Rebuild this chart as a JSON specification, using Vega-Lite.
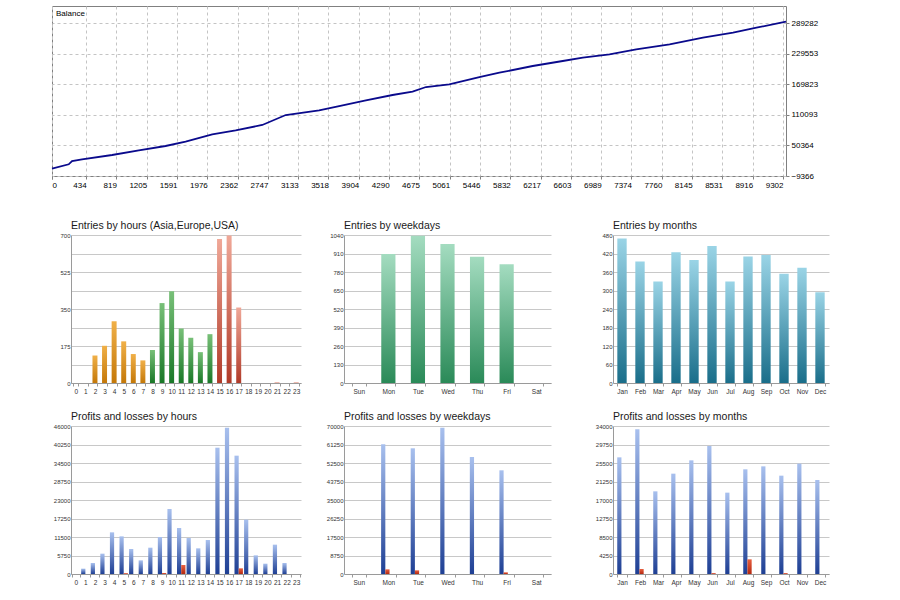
{
  "$schema": "https://vega.github.io/schema/vega-lite/v6.json",
  "padding": {"left": 47, "top": 5, "right": 5, "bottom": 5},
  "background": "white",
  "spacing": 30,
  "align": "none",
  "config": {
    "font": "Liberation Sans",
    "view": {"stroke": null},
    "title": {"fontSize": 10.5, "fontWeight": "normal", "anchor": "start", "frame": "group", "offset": 1, "color": "#1a1a1a", "font": "Liberation Sans"},
    "axis": {"labelFontSize": 6, "labelColor": "#333333", "domainColor": "#9a9a9a", "tickColor": "#9a9a9a", "gridColor": "#c8c8c8"},
    "axisX": {"grid": false, "labelAngle": 0, "tickBand": "extent", "tickSize": 3, "labelPadding": 2, "labelFontSize": 6.5},
    "axisY": {"ticks": false, "labelPadding": 1, "grid": true, "format": "d"}
  },
  "datasets": {
    "bal": [
      {"n": 0, "b": 5000}, {"n": 213, "b": 13472}, {"n": 255, "b": 19914}, {"n": 382, "b": 23232},
      {"n": 765, "b": 31626}, {"n": 1105, "b": 40800}, {"n": 1445, "b": 49194}, {"n": 1700, "b": 57590},
      {"n": 2039, "b": 72030}, {"n": 2337, "b": 79840}, {"n": 2676, "b": 90190}, {"n": 2974, "b": 109700},
      {"n": 3399, "b": 118880}, {"n": 3654, "b": 127270}, {"n": 3994, "b": 138400}, {"n": 4333, "b": 148750},
      {"n": 4588, "b": 155190}, {"n": 4759, "b": 164360}, {"n": 5055, "b": 169640}, {"n": 5438, "b": 183890},
      {"n": 5693, "b": 192280}, {"n": 6117, "b": 205360}, {"n": 6499, "b": 215120}, {"n": 6754, "b": 221560},
      {"n": 7094, "b": 228200}, {"n": 7434, "b": 237960}, {"n": 7859, "b": 247720}, {"n": 8283, "b": 260600},
      {"n": 8666, "b": 270360}, {"n": 8964, "b": 280120}, {"n": 9340, "b": 291830}
    ],
    "hours": [
      {"h": 0, "s": "Asia", "n": 0, "Profit": 0, "Loss": 0},
      {"h": 1, "s": "Asia", "n": 0, "Profit": 1660, "Loss": 0},
      {"h": 2, "s": "Asia", "n": 130, "Profit": 3420, "Loss": 0},
      {"h": 3, "s": "Asia", "n": 176, "Profit": 6320, "Loss": 0},
      {"h": 4, "s": "Asia", "n": 292, "Profit": 12950, "Loss": 0},
      {"h": 5, "s": "Asia", "n": 197, "Profit": 11700, "Loss": 250},
      {"h": 6, "s": "Asia", "n": 137, "Profit": 7770, "Loss": 0},
      {"h": 7, "s": "Asia", "n": 107, "Profit": 4250, "Loss": 0},
      {"h": 8, "s": "Europe", "n": 156, "Profit": 8180, "Loss": 0},
      {"h": 9, "s": "Europe", "n": 378, "Profit": 11500, "Loss": 300},
      {"h": 10, "s": "Europe", "n": 434, "Profit": 20200, "Loss": 0},
      {"h": 11, "s": "Europe", "n": 258, "Profit": 14300, "Loss": 2800},
      {"h": 12, "s": "Europe", "n": 214, "Profit": 11190, "Loss": 0},
      {"h": 13, "s": "Europe", "n": 146, "Profit": 7980, "Loss": 0},
      {"h": 14, "s": "Europe", "n": 231, "Profit": 10570, "Loss": 0},
      {"h": 15, "s": "USA", "n": 681, "Profit": 39260, "Loss": 0},
      {"h": 16, "s": "USA", "n": 698, "Profit": 45480, "Loss": 0},
      {"h": 17, "s": "USA", "n": 357, "Profit": 36780, "Loss": 1760},
      {"h": 18, "s": "USA", "n": 0, "Profit": 16890, "Loss": 0},
      {"h": 19, "s": "USA", "n": 0, "Profit": 5800, "Loss": 0},
      {"h": 20, "s": "USA", "n": 0, "Profit": 3210, "Loss": 0},
      {"h": 21, "s": "USA", "n": 3, "Profit": 9120, "Loss": 0},
      {"h": 22, "s": "USA", "n": 0, "Profit": 3420, "Loss": 0},
      {"h": 23, "s": "USA", "n": 3, "Profit": 0, "Loss": 0}
    ],
    "days": [
      {"d": "Sun", "n": 0, "Profit": 0, "Loss": 0},
      {"d": "Mon", "n": 907, "Profit": 61340, "Loss": 2200},
      {"d": "Tue", "n": 1035, "Profit": 59450, "Loss": 1730},
      {"d": "Wed", "n": 977, "Profit": 69230, "Loss": 0},
      {"d": "Thu", "n": 888, "Profit": 55350, "Loss": 0},
      {"d": "Fri", "n": 834, "Profit": 49040, "Loss": 790},
      {"d": "Sat", "n": 0, "Profit": 0, "Loss": 0}
    ],
    "months": [
      {"m": "Jan", "n": 469, "Profit": 26800, "Loss": 0},
      {"m": "Feb", "n": 394, "Profit": 33240, "Loss": 1150},
      {"m": "Mar", "n": 329, "Profit": 18990, "Loss": 0},
      {"m": "Apr", "n": 424, "Profit": 23050, "Loss": 0},
      {"m": "May", "n": 399, "Profit": 26110, "Loss": 0},
      {"m": "Jun", "n": 444, "Profit": 29410, "Loss": 200},
      {"m": "Jul", "n": 329, "Profit": 18690, "Loss": 0},
      {"m": "Aug", "n": 410, "Profit": 24050, "Loss": 3370},
      {"m": "Sep", "n": 415, "Profit": 24730, "Loss": 0},
      {"m": "Oct", "n": 354, "Profit": 22590, "Loss": 200},
      {"m": "Nov", "n": 374, "Profit": 25350, "Loss": 0},
      {"m": "Dec", "n": 294, "Profit": 21600, "Loss": 0}
    ]
  },
  "vconcat": [
    {
      "width": 734,
      "height": 170,
      "title": {"text": "Balance", "fontSize": 8, "offset": -12, "dx": 4, "color": "#000000"},
      "view": {"stroke": "#808080"},
      "data": {"name": "bal"},
      "mark": {"type": "line", "color": "#0a0a8c", "strokeWidth": 1.8},
      "encoding": {
        "x": {
          "field": "n", "type": "quantitative", "title": null,
          "scale": {"domain": [0, 9340], "nice": false, "zero": false},
          "axis": {
            "values": [0, 434, 819, 1205, 1591, 1976, 2362, 2747, 3133, 3518, 3904, 4290, 4675, 5061, 5446, 5832, 6217, 6603, 6989, 7374, 7760, 8145, 8531, 8916, 9302],
            "format": "d", "grid": true, "gridDash": [3, 3], "gridColor": "#c4c4c4", "domain": false,
            "ticks": true, "tickSize": 3, "tickColor": "#808080", "labelFontSize": 8, "labelColor": "#000000",
            "labelPadding": 2, "labelFlush": false, "labelOverlap": false,
            "labelAlign": {"condition": {"test": "datum.value == 0", "value": "left"}, "value": "right"}
          }
        },
        "y": {
          "field": "b", "type": "quantitative", "title": null,
          "scale": {"domain": [-9366, 322500], "nice": false, "zero": false},
          "axis": {
            "orient": "right", "values": [-9366, 50364, 110093, 169823, 229553, 289282], "format": "d",
            "grid": true, "gridDash": [3, 3], "gridColor": "#c4c4c4", "domain": false, "ticks": true,
            "tickSize": 3, "tickColor": "#808080", "labelFontSize": 8, "labelColor": "#000000", "labelPadding": 2
          }
        }
      }
    },
    {
      "spacing": 0,
      "hconcat": [
        {"width": 1, "height": 1, "data": {"values": []}, "mark": "rect", "encoding": {}},
        {
          "columns": 3,
          "spacing": {"row": 16, "column": 10},
          "align": "each",
          "concat": [
            {
              "width": 230, "height": 148,
              "title": "Entries by hours (Asia,Europe,USA)",
              "data": {"name": "hours"},
              "encoding": {
                "x": {"field": "h", "type": "ordinal", "title": null, "scale": {"paddingInner": 0.48, "paddingOuter": 0.24}},
                "y": {"field": "n", "type": "quantitative", "title": null, "scale": {"domain": [0, 700], "nice": false},
                  "axis": {"values": [0, 87.5, 175, 262.5, 350, 437.5, 525, 612.5, 700], "labelExpr": "datum.value % 175 == 0 ? datum.label : ''", "minExtent": 15, "maxExtent": 15}}
              },
              "layer": [
                {"transform": [{"filter": "datum.s == 'Asia'"}],
                 "mark": {"type": "bar", "color": {"gradient": "linear", "x1": 0, "y1": 0, "x2": 0, "y2": 1, "stops": [{"offset": 0, "color": "#f0b048"}, {"offset": 1, "color": "#c47808"}]}}},
                {"transform": [{"filter": "datum.s == 'Europe'"}],
                 "mark": {"type": "bar", "color": {"gradient": "linear", "x1": 0, "y1": 0, "x2": 0, "y2": 1, "stops": [{"offset": 0, "color": "#78c078"}, {"offset": 1, "color": "#1a7828"}]}}},
                {"transform": [{"filter": "datum.s == 'USA'"}],
                 "mark": {"type": "bar", "color": {"gradient": "linear", "x1": 0, "y1": 0, "x2": 0, "y2": 1, "stops": [{"offset": 0, "color": "#f0a898"}, {"offset": 1, "color": "#b03a28"}]}}}
              ]
            },
            {
              "width": 207, "height": 148,
              "title": "Entries by weekdays",
              "data": {"name": "days"},
              "mark": {"type": "bar", "color": {"gradient": "linear", "x1": 0, "y1": 0, "x2": 0, "y2": 1, "stops": [{"offset": 0, "color": "#a4dcc0"}, {"offset": 1, "color": "#2a8a58"}]}},
              "encoding": {
                "x": {"field": "d", "type": "ordinal", "title": null, "scale": {"domain": ["Sun", "Mon", "Tue", "Wed", "Thu", "Fri", "Sat"], "paddingInner": 0.52, "paddingOuter": 0.26}},
                "y": {"field": "n", "type": "quantitative", "title": null, "scale": {"domain": [0, 1040], "nice": false},
                  "axis": {"values": [0, 130, 260, 390, 520, 650, 780, 910, 1040], "minExtent": 33, "maxExtent": 33}}
              }
            },
            {
              "width": 216, "height": 148,
              "title": "Entries by months",
              "data": {"name": "months"},
              "mark": {"type": "bar", "color": {"gradient": "linear", "x1": 0, "y1": 0, "x2": 0, "y2": 1, "stops": [{"offset": 0, "color": "#9ad4e6"}, {"offset": 1, "color": "#1a6e8a"}]}},
              "encoding": {
                "x": {"field": "m", "type": "ordinal", "title": null, "scale": {"domain": ["Jan", "Feb", "Mar", "Apr", "May", "Jun", "Jul", "Aug", "Sep", "Oct", "Nov", "Dec"], "paddingInner": 0.48, "paddingOuter": 0.24}},
                "y": {"field": "n", "type": "quantitative", "title": null, "scale": {"domain": [0, 480], "nice": false},
                  "axis": {"values": [0, 60, 120, 180, 240, 300, 360, 420, 480], "minExtent": 52, "maxExtent": 52}}
              }
            },
            {
              "width": 230, "height": 148,
              "title": "Profits and losses by hours",
              "data": {"name": "hours"},
              "transform": [{"fold": ["Profit", "Loss"], "as": ["t", "v"]}],
              "encoding": {
                "x": {"field": "h", "type": "ordinal", "title": null, "scale": {"paddingInner": 0.12, "paddingOuter": 0.06}},
                "xOffset": {"field": "t", "type": "nominal", "scale": {"domain": ["Profit", "Loss"]}},
                "y": {"field": "v", "type": "quantitative", "title": null, "scale": {"domain": [0, 46000], "nice": false},
                  "axis": {"values": [0, 5750, 11500, 17250, 23000, 28750, 34500, 40250, 46000], "minExtent": 15, "maxExtent": 15}}
              },
              "layer": [
                {"transform": [{"filter": "datum.t == 'Profit'"}],
                 "mark": {"type": "bar", "color": {"gradient": "linear", "x1": 0, "y1": 0, "x2": 0, "y2": 1, "stops": [{"offset": 0, "color": "#a8c0ee"}, {"offset": 1, "color": "#1e3f94"}]}}},
                {"transform": [{"filter": "datum.t == 'Loss'"}],
                 "mark": {"type": "bar", "color": {"gradient": "linear", "x1": 0, "y1": 0, "x2": 0, "y2": 1, "stops": [{"offset": 0, "color": "#e86040"}, {"offset": 1, "color": "#b42810"}]}}}
              ]
            },
            {
              "width": 207, "height": 148,
              "title": "Profits and losses by weekdays",
              "data": {"name": "days"},
              "transform": [{"fold": ["Profit", "Loss"], "as": ["t", "v"]}],
              "encoding": {
                "x": {"field": "d", "type": "ordinal", "title": null, "scale": {"domain": ["Sun", "Mon", "Tue", "Wed", "Thu", "Fri", "Sat"], "paddingInner": 0.51, "paddingOuter": 0.255}},
                "xOffset": {"field": "t", "type": "nominal", "scale": {"domain": ["Profit", "Loss"]}},
                "y": {"field": "v", "type": "quantitative", "title": null, "scale": {"domain": [0, 70000], "nice": false},
                  "axis": {"values": [0, 8750, 17500, 26250, 35000, 43750, 52500, 61250, 70000], "minExtent": 33, "maxExtent": 33}}
              },
              "layer": [
                {"transform": [{"filter": "datum.t == 'Profit'"}],
                 "mark": {"type": "bar", "color": {"gradient": "linear", "x1": 0, "y1": 0, "x2": 0, "y2": 1, "stops": [{"offset": 0, "color": "#a8c0ee"}, {"offset": 1, "color": "#1e3f94"}]}}},
                {"transform": [{"filter": "datum.t == 'Loss'"}],
                 "mark": {"type": "bar", "color": {"gradient": "linear", "x1": 0, "y1": 0, "x2": 0, "y2": 1, "stops": [{"offset": 0, "color": "#e86040"}, {"offset": 1, "color": "#b42810"}]}}}
              ]
            },
            {
              "width": 216, "height": 148,
              "title": "Profits and losses by months",
              "data": {"name": "months"},
              "transform": [{"fold": ["Profit", "Loss"], "as": ["t", "v"]}],
              "encoding": {
                "x": {"field": "m", "type": "ordinal", "title": null, "scale": {"domain": ["Jan", "Feb", "Mar", "Apr", "May", "Jun", "Jul", "Aug", "Sep", "Oct", "Nov", "Dec"], "paddingInner": 0.47, "paddingOuter": 0.235}},
                "xOffset": {"field": "t", "type": "nominal", "scale": {"domain": ["Profit", "Loss"]}},
                "y": {"field": "v", "type": "quantitative", "title": null, "scale": {"domain": [0, 34000], "nice": false},
                  "axis": {"values": [0, 4250, 8500, 12750, 17000, 21250, 25500, 29750, 34000], "minExtent": 52, "maxExtent": 52}}
              },
              "layer": [
                {"transform": [{"filter": "datum.t == 'Profit'"}],
                 "mark": {"type": "bar", "color": {"gradient": "linear", "x1": 0, "y1": 0, "x2": 0, "y2": 1, "stops": [{"offset": 0, "color": "#a8c0ee"}, {"offset": 1, "color": "#1e3f94"}]}}},
                {"transform": [{"filter": "datum.t == 'Loss'"}],
                 "mark": {"type": "bar", "color": {"gradient": "linear", "x1": 0, "y1": 0, "x2": 0, "y2": 1, "stops": [{"offset": 0, "color": "#e86040"}, {"offset": 1, "color": "#b42810"}]}}}
              ]
            }
          ]
        }
      ]
    }
  ]
}
